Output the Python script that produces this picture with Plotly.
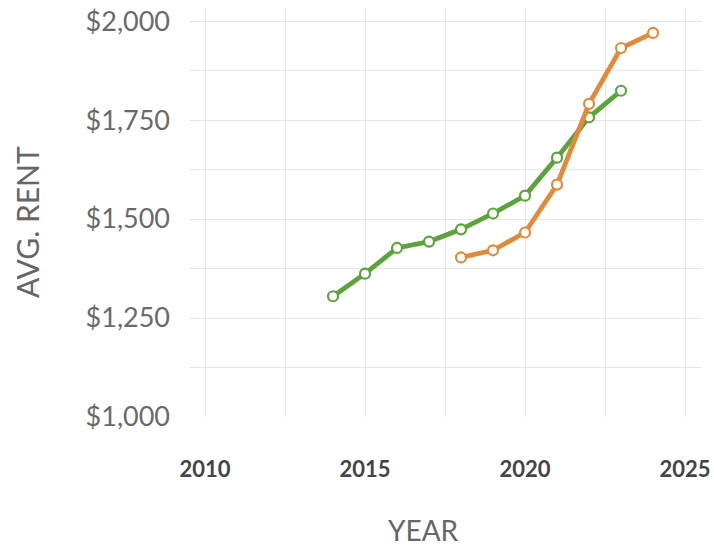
import plotly.graph_objects as go

years_green = [2014, 2015, 2016, 2017, 2018, 2019, 2020, 2021, 2022, 2023]
rent_green = [1305, 1362, 1427, 1443, 1474, 1514, 1559, 1655, 1757, 1824]

years_orange = [2018, 2019, 2020, 2021, 2022, 2023, 2024]
rent_orange = [1403, 1421, 1466, 1587, 1791, 1932, 1970]

y_ticks = [1000, 1250, 1500, 1750, 2000]
x_ticks = [2010, 2015, 2020, 2025]

GREEN = "#5ba33b"
ORANGE = "#e3893a"

fig = go.Figure()
for xs, ys, c in [(years_green, rent_green, GREEN), (years_orange, rent_orange, ORANGE)]:
    fig.add_trace(go.Scatter(
        x=xs, y=ys, mode="lines+markers",
        line=dict(color=c, width=4.8),
        marker=dict(symbol="circle", size=10, color="white", line=dict(color=c, width=2.2)),
        showlegend=False,
    ))

fig.update_layout(
    width=714, height=549,
    margin=dict(l=190, r=12, t=8, b=132, autoexpand=False),
    plot_bgcolor="white", paper_bgcolor="white",
    font=dict(family="Lato, Open Sans, sans-serif", color="#666"),
    annotations=[
        dict(text="YEAR", xref="paper", yref="paper", x=0.456, y=-0.2775,
             xanchor="center", yanchor="middle", showarrow=False, borderpad=0,
             font=dict(size=28, color="#666")),
        dict(text="AVG. RENT", xref="paper", yref="paper", x=-0.318, y=0.477,
             xanchor="center", yanchor="middle", showarrow=False, textangle=-90,
             font=dict(size=30, color="#666")),
    ],
)
fig.update_xaxes(
    range=[2009.53, 2025.53],
    tickvals=x_ticks, ticktext=[str(v) for v in x_ticks],
    tickfont=dict(size=22, color="#444", family="Lato, sans-serif", weight="bold"),
    showgrid=True, gridcolor="#e6e6e6", gridwidth=1,
    minor=dict(dtick=2.5, tick0=2010, showgrid=True, gridcolor="#e6e6e6"),
    zeroline=False, showline=False, automargin=False,
    ticklabelstandoff=37,
)
fig.update_yaxes(
    range=[1000, 2033],
    tickvals=y_ticks, ticktext=["$" + f"{v:,}" for v in y_ticks],
    tickfont=dict(size=27, color="#6a6a6a"),
    showgrid=True, gridcolor="#e6e6e6", gridwidth=1,
    minor=dict(dtick=125, tick0=1000, showgrid=True, gridcolor="#e6e6e6"),
    zeroline=False, showline=False, automargin=False,
    ticklabelstandoff=19,
)

fig.write_html("out.html")
